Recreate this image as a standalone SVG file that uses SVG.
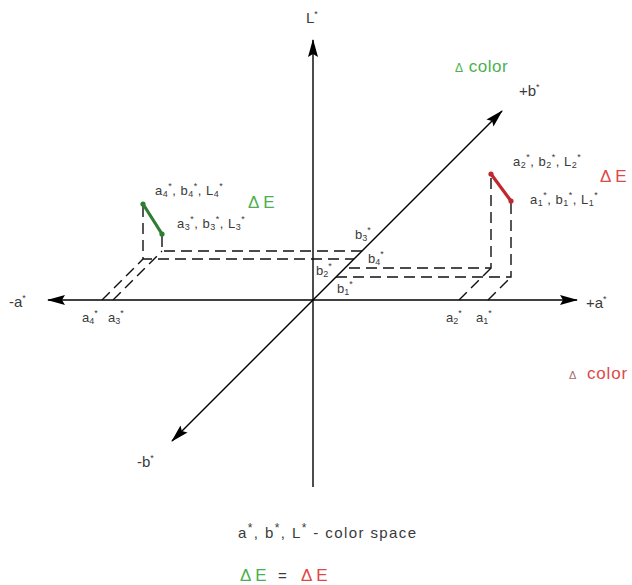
<svg xmlns="http://www.w3.org/2000/svg" width="632" height="585" viewBox="0 0 632 585">
<style>
.ax{stroke:#000;stroke-width:1.4;fill:none}
.dash{stroke:#111;stroke-width:1.4;fill:none;stroke-dasharray:11 6}
.t{font-family:"Liberation Sans",Arial,sans-serif;font-size:13px;fill:#3a3a3a}
.pl{letter-spacing:0.5px}
.lab{font-family:"Liberation Sans",Arial,sans-serif;font-size:15px;fill:#3a3a3a}
.g{fill:#4caf50;font-family:"Liberation Sans",Arial,sans-serif;font-size:17px}
.r{fill:#e04848;font-family:"Liberation Sans",Arial,sans-serif;font-size:17px}
.s{font-size:9px}
</style>
<defs>
<marker id="arr" viewBox="0 0 18 10" refX="17" refY="5" markerWidth="18" markerHeight="10" markerUnits="userSpaceOnUse" orient="auto">
<path d="M0,0 L18,5 L0,10 L3,5 z" fill="#000"/>
</marker>
</defs>
<rect width="632" height="585" fill="#fff"/>
<g id="connectors">
<g id="axes">
<line class="ax" x1="313" y1="487" x2="313" y2="40" marker-end="url(#arr)"/>
<line class="ax" x1="313" y1="300" x2="48" y2="300" marker-end="url(#arr)"/>
<line class="ax" x1="313" y1="300" x2="577" y2="300" marker-end="url(#arr)"/>
<line class="ax" x1="313" y1="300" x2="502" y2="111" marker-end="url(#arr)"/>
<line class="ax" x1="313" y1="300" x2="172" y2="441" marker-end="url(#arr)"/>
</g>
<g id="projections">
<path class="dash" d="M162,236 V251 H362"/>
<path class="dash" d="M143,206 V259 H354"/>
<path class="dash" d="M491,178 V268 H345"/>
<path class="dash" d="M511,203 V277 H336"/>
<line class="dash" x1="113" y1="300" x2="162" y2="251"/>
<line class="dash" x1="102" y1="300" x2="143" y2="259"/>
<line class="dash" x1="459" y1="300" x2="491" y2="268"/>
<line class="dash" x1="488" y1="300" x2="511" y2="277"/>
</g>
</g>
<g id="green-pair">
<line x1="143" y1="204" x2="162" y2="234" stroke="#2e7d32" stroke-width="3.2"/>
<circle cx="143" cy="204" r="2.6" fill="#2e7d32"/>
<circle cx="162" cy="234" r="2.6" fill="#2e7d32"/>
</g>
<g id="red-pair">
<line x1="491" y1="174" x2="511" y2="201" stroke="#c0282d" stroke-width="3.2"/>
<circle cx="491" cy="174" r="2.6" fill="#c0282d"/>
<circle cx="511" cy="201" r="2.6" fill="#c0282d"/>
</g>
<g id="axis-labels">
<text class="lab" x="306" y="23">L<tspan class="s" dy="-6">*</tspan></text>
<text class="lab" x="9" y="307">-a<tspan class="s" dy="-6">*</tspan></text>
<text class="lab" x="586" y="308">+a<tspan class="s" dy="-6">*</tspan></text>
<text class="lab" x="519" y="96">+b<tspan class="s" dy="-6">*</tspan></text>
<text class="lab" x="137" y="467">-b<tspan class="s" dy="-6">*</tspan></text>
</g>
<g id="tick-labels">
<text class="t" x="82" y="322">a<tspan class="s" dy="2">4</tspan><tspan class="s" dy="-8">*</tspan></text>
<text class="t" x="108" y="322">a<tspan class="s" dy="2">3</tspan><tspan class="s" dy="-8">*</tspan></text>
<text class="t" x="446" y="322">a<tspan class="s" dy="2">2</tspan><tspan class="s" dy="-8">*</tspan></text>
<text class="t" x="476" y="322">a<tspan class="s" dy="2">1</tspan><tspan class="s" dy="-8">*</tspan></text>
<text class="t" x="355" y="239">b<tspan class="s" dy="2">3</tspan><tspan class="s" dy="-8">*</tspan></text>
<text class="t" x="368" y="263">b<tspan class="s" dy="2">4</tspan><tspan class="s" dy="-8">*</tspan></text>
<text class="t" x="316" y="275">b<tspan class="s" dy="2">2</tspan><tspan class="s" dy="-8">*</tspan></text>
<text class="t" x="337" y="293">b<tspan class="s" dy="2">1</tspan><tspan class="s" dy="-8">*</tspan></text>
</g>
<g id="point-labels">
<text class="t pl" x="155" y="195">a<tspan class="s" dy="2">4</tspan><tspan class="s" dy="-8">*</tspan><tspan dy="6">, b</tspan><tspan class="s" dy="2">4</tspan><tspan class="s" dy="-8">*</tspan><tspan dy="6">, L</tspan><tspan class="s" dy="2">4</tspan><tspan class="s" dy="-8">*</tspan></text>
<text class="t pl" x="177" y="228">a<tspan class="s" dy="2">3</tspan><tspan class="s" dy="-8">*</tspan><tspan dy="6">, b</tspan><tspan class="s" dy="2">3</tspan><tspan class="s" dy="-8">*</tspan><tspan dy="6">, L</tspan><tspan class="s" dy="2">3</tspan><tspan class="s" dy="-8">*</tspan></text>
<text class="t pl" x="513" y="166">a<tspan class="s" dy="2">2</tspan><tspan class="s" dy="-8">*</tspan><tspan dy="6">, b</tspan><tspan class="s" dy="2">2</tspan><tspan class="s" dy="-8">*</tspan><tspan dy="6">, L</tspan><tspan class="s" dy="2">2</tspan><tspan class="s" dy="-8">*</tspan></text>
<text class="t pl" x="530" y="204">a<tspan class="s" dy="2">1</tspan><tspan class="s" dy="-8">*</tspan><tspan dy="6">, b</tspan><tspan class="s" dy="2">1</tspan><tspan class="s" dy="-8">*</tspan><tspan dy="6">, L</tspan><tspan class="s" dy="2">1</tspan><tspan class="s" dy="-8">*</tspan></text>
</g>
<g id="delta-labels">
<text class="g" x="455" y="72" letter-spacing="0.5"><tspan font-size="12">Δ</tspan> color</text>
<text class="g" x="248" y="208">Δ E</text>
<text class="r" x="600" y="182" font-size="16">Δ E</text>
<text class="r" x="569" y="379" font-size="19"><tspan font-size="11" fill="#a86a6a">Δ</tspan><tspan x="587" letter-spacing="0.8">color</tspan></text>
</g>
<g id="legend">
<text class="lab" x="238" y="538" font-size="18" letter-spacing="1.4">a<tspan font-size="12" dy="-6">*</tspan><tspan dy="6">, b</tspan><tspan font-size="12" dy="-6">*</tspan><tspan dy="6">, L</tspan><tspan font-size="12" dy="-6">*</tspan><tspan dy="6"> - color space</tspan></text>
<text class="g" x="240" y="581">Δ E</text>
<text class="lab" x="278" y="581" font-size="16">=</text>
<text class="r" x="301" y="581">Δ E</text>
</g>
</svg>
